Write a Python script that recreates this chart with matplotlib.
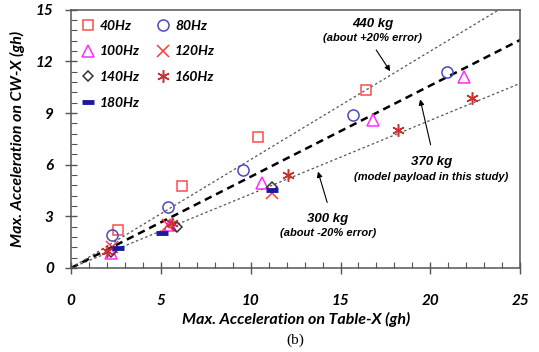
import matplotlib

matplotlib.use("Agg")
import matplotlib.pyplot as plt
from matplotlib.ticker import MultipleLocator

plt.rcParams["font.family"] = ["Lato", "DejaVu Sans"]

# Peak accelerations, table (x) vs. CW (y), per excitation frequency
freqs = ["40Hz", "80Hz", "100Hz", "120Hz", "140Hz", "160Hz", "180Hz"]
table_x = {
    "40Hz": [2.6, 6.2, 10.4, 16.4],
    "80Hz": [2.3, 5.4, 9.55, 15.7, 20.9],
    "100Hz": [2.2, 5.5, 10.6, 16.8, 21.9],
    "120Hz": [2.3, 5.4, 11.2],
    "140Hz": [2.2, 5.9, 11.2],
    "160Hz": [2.0, 5.6, 12.05, 18.2, 22.3],
    "180Hz": [2.6, 5.05, 11.2],
}
cw_x = {
    "40Hz": [2.2, 4.75, 7.6, 10.35],
    "80Hz": [1.9, 3.55, 5.7, 8.9, 11.4],
    "100Hz": [0.85, 2.5, 4.95, 8.6, 11.1],
    "120Hz": [1.2, 2.5, 4.35],
    "140Hz": [0.9, 2.4, 4.7],
    "160Hz": [1.0, 2.6, 5.4, 8.0, 9.9],
    "180Hz": [1.15, 2.05, 4.5],
}

# Reference lines y = k * x for three payload masses
payload_kg = [300, 370, 440]
payload_slope = [0.429, 0.530, 0.630]

styles = {
    "40Hz": dict(marker="s", color="#ff4a4a", ms=7.5),
    "80Hz": dict(marker="o", color="#4a4ac0", ms=8),
    "100Hz": dict(marker="^", color="#ff2cff", ms=8),
    "120Hz": dict(marker="x", color="#ff3a3a", ms=8.5),
    "140Hz": dict(marker="D", color="#333333", ms=5.5),
    "160Hz": dict(marker=(6, 2, 0), color="#c83232", ms=9),
    "180Hz": dict(marker="_", color="#1a1aa0", ms=8),
}

fig = plt.figure(figsize=(5.39, 3.52), dpi=100)
ax = fig.add_axes([0.132, 0.239, 0.833, 0.733])

xs = [0, 25]
for kg, k in zip(payload_kg, payload_slope):
    if kg == 370:
        ax.plot(xs, [k * x for x in xs], color="black", lw=1.8,
                dashes=(3, 2), zorder=2)
    else:
        ax.plot(xs, [k * x for x in xs], color="#555555", lw=0.9,
                dashes=(2, 2), zorder=2)

handles = {}
for f in freqs:
    st = styles[f]
    mew = 3.5 if f == "180Hz" else 1.1
    (h,) = ax.plot(table_x[f], cw_x[f], ls="none", marker=st["marker"],
                   ms=st["ms"], mfc="none", mec=st["color"], mew=mew,
                   label=f, zorder=3)
    handles[f] = h

order = ["40Hz", "100Hz", "140Hz", "180Hz", "80Hz", "120Hz", "160Hz"]
ax.legend([handles[f] for f in order], order, loc="upper left", ncol=2,
          frameon=False, handlelength=1.0, handletextpad=0.35,
          columnspacing=1.2, labelspacing=1.0, borderaxespad=0.3,
          prop=dict(size=10, weight="bold", style="italic"))

ax.set_xlim(0, 25)
ax.set_ylim(0, 15)
ax.xaxis.set_major_locator(MultipleLocator(5))
ax.xaxis.set_minor_locator(MultipleLocator(1))
ax.yaxis.set_major_locator(MultipleLocator(3))
ax.yaxis.set_minor_locator(MultipleLocator(0.6))
ax.tick_params(which="major", direction="inout", length=9, width=1,
               color="#555555", labelsize=11)
ax.tick_params(axis="x", which="major", pad=14)
ax.tick_params(axis="y", which="major", pad=8)
ax.tick_params(which="minor", direction="in", length=4, width=0.8,
               color="#555555")
for lab in ax.get_xticklabels() + ax.get_yticklabels():
    lab.set_fontweight("bold")
    lab.set_fontstyle("italic")
for sp in ax.spines.values():
    sp.set_color("#555555")
    sp.set_linewidth(1.1)

ax.set_xlabel("Max. Acceleration on Table-X (gh)", fontsize=11.5,
              fontweight="bold", fontstyle="italic", labelpad=3)
ax.set_ylabel("Max. Acceleration on CW-X (gh)", fontsize=11.5,
              fontweight="bold", fontstyle="italic", labelpad=8)

# Annotations for the three payload lines
txt = dict(ha="center", va="center", fontweight="bold", fontstyle="italic",
           family=["Liberation Sans", "DejaVu Sans"])
arrow = dict(arrowstyle="-|>", color="black", lw=0.8, mutation_scale=8)
ax.text(16.8, 14.2, "440 kg", fontsize=9.5, **txt)
ax.text(16.8, 13.35, "(about +20% error)", fontsize=8, **txt)
ax.annotate("", xy=(17.85, 11.3), xytext=(16.9, 12.8), arrowprops=arrow)
ax.text(20.05, 6.15, "370 kg", fontsize=9.5, **txt)
ax.text(20.05, 5.3, "(model payload in this study)", fontsize=8, **txt)
ax.annotate("", xy=(19.4, 9.95), xytext=(20.05, 7.0), arrowprops=arrow)
ax.text(14.3, 2.85, "300 kg", fontsize=9.5, **txt)
ax.text(14.3, 2.0, "(about -20% error)", fontsize=8, **txt)
ax.annotate("", xy=(13.7, 5.75), xytext=(14.3, 3.65), arrowprops=arrow)

fig.text(0.547, 0.034, "(b)", ha="center", va="center", fontsize=11,
         family=["Liberation Serif", "DejaVu Serif"])

fig.savefig("out.png", dpi=100)
